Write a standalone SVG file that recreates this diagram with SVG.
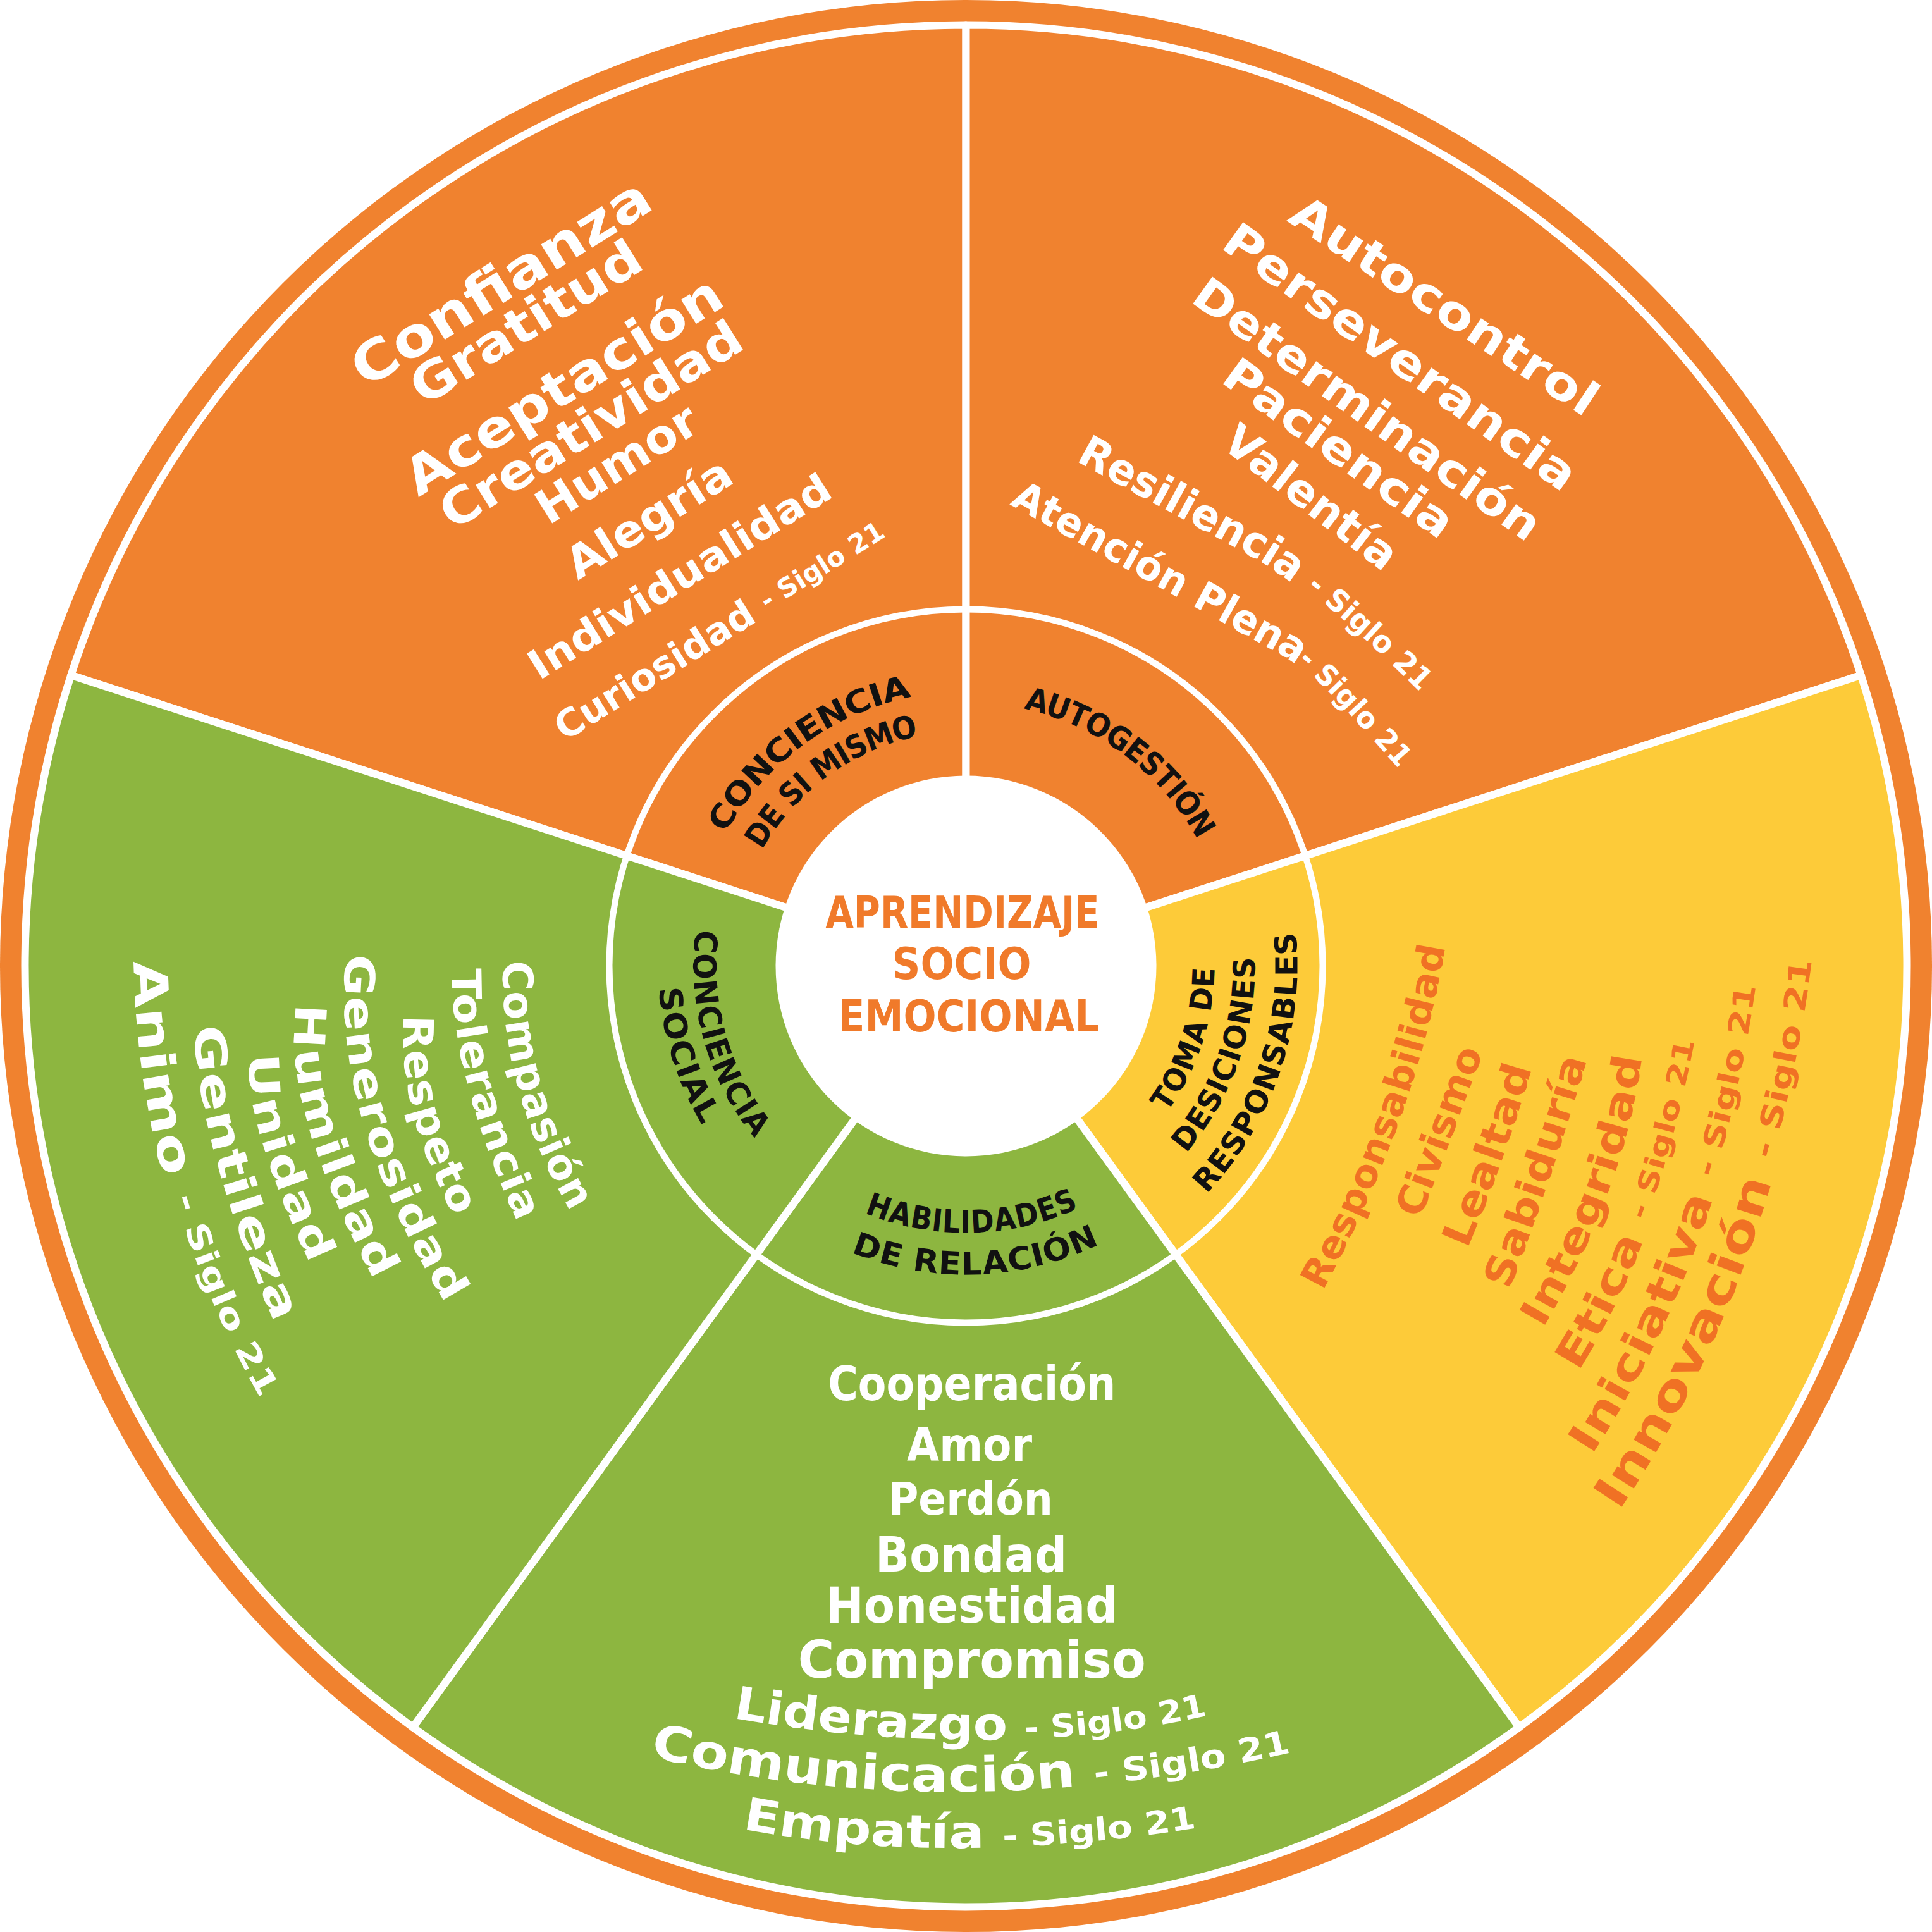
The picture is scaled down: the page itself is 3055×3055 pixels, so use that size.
<svg xmlns="http://www.w3.org/2000/svg" width="3055" height="3055" viewBox="0 0 3055 3055">
<style>
.t{font-family:'DejaVu Sans','Liberation Sans',sans-serif;font-weight:bold}
.w{fill:#ffffff}
.y{fill:#F07124}
.k{fill:#111111}
.c{fill:#F07A2A}
.m{text-anchor:middle}
.cb{dominant-baseline:central}
.wedge{stroke:#ffffff;stroke-width:12;stroke-linejoin:round}
.or{fill:#F0822F}
.gr{fill:#8DB640}
.ye{fill:#FDCB39}
</style>
<defs>
<path id="i1" d="M1077.4,1498.4 A451,451 0 0 1 1634.3,1089.3"/>
<path id="i2" d="M1140.4,1500.4 A388,388 0 0 1 1621.4,1151"/>
<path id="i3" d="M1429.9,1104.6 A434,434 0 0 1 1960.9,1504.8"/>
<path id="i4" d="M1666.5,1876.9 A376,376 0 0 0 1847.4,1329.9"/>
<path id="i5" d="M1682.7,1939.2 A440,440 0 0 0 1906,1303.2"/>
<path id="i6" d="M1710.8,2000.2 A507,507 0 0 0 1961.2,1264.9"/>
<path id="i7" d="M1223.2,1794.8 A405,405 0 0 0 1843.6,1780.7"/>
<path id="i8" d="M1176.9,1842 A471,471 0 0 0 1898.1,1818.1"/>
<path id="i9" d="M1185.3,1294.5 A414,414 0 0 0 1357.5,1905"/>
<path id="i10" d="M1130.7,1275.7 A470,470 0 0 0 1348.4,1962"/>
<path id="y1" d="M2073,2031.7 Q2228.9,1742.8 2269.2,1463.2"/>
<path id="y2" d="M2225,1919.9 Q2258.5,1835.4 2333.7,1631.4"/>
<path id="y3" d="M2299.5,1966.8 Q2364.4,1814.6 2409.3,1654.1"/>
<path id="y4" d="M2366,2032.2 Q2437.1,1846.7 2496.7,1640.9"/>
<path id="y5" d="M2420.5,2089.8 Q2558.2,1855.7 2578,1637.3"/>
<path id="y6" d="M2475.8,2157 Q2609.4,1946.2 2669.5,1613"/>
<path id="y7" d="M2496.6,2288.5 Q2707.7,1966.9 2764.5,1526.9"/>
<path id="y8" d="M2538.3,2375.2 Q2791.4,1997.8 2851.7,1488.5"/>
<path id="l1" d="M818.6,1519.1 Q811.8,1732 941.8,1936.9"/>
<path id="l2" d="M736.95,1532 Q733.6,1702.8 852.7,1954.4"/>
<path id="l3" d="M662.2,1605.8 Q648.2,1758.2 755.4,1943"/>
<path id="l4" d="M570.7,1509.5 Q542.6,1767.9 744.1,2081.1"/>
<path id="l5" d="M494,1588.5 Q464.15,1746.4 630.5,2045.1"/>
<path id="l6" d="M418.7,1666 Q402.35,1761.2 525.8,2019.6"/>
<path id="l7" d="M330.6,1621.4 Q338.6,1820.25 470.2,2113.7"/>
<path id="l8" d="M237.5,1519.1 Q242.35,1892.25 445.8,2236.4"/>
<path id="b7" d="M1159,2716.5 Q1595.5,2792.2 1950,2703"/>
<path id="b8" d="M1027,2777 Q1526.5,2896.5 2080,2762"/>
<path id="b9" d="M1173.7,2892 Q1510.6,2955.5 1925,2885"/>
<path id="r6" d="M1711.9,707.5 L1990,858.4 Q2085.5,910.3 2269.7,1094.4 L2305,1129.8"/>
<path id="r7" d="M1606.7,778 L2040,1018.2 Q2081,1040.9 2238,1221.4 L2271,1259.3"/>
</defs>
<rect width="3055" height="3055" fill="#ffffff"/>
<circle id="border" cx="1527.5" cy="1527.5" r="1527.5" class="or"/>

<g id="conciencia-de-si-mismo">
<path class="wedge or" d="M1527.5,1527.5 L112.3,1067.7 A1488,1488 0 0 1 1527.5,39.5 Z"/>
<text class="t k m cb" font-size="50"><textPath href="#i1" startOffset="50%" textLength="390" lengthAdjust="spacingAndGlyphs">CONCIENCIA</textPath></text>
<text class="t k m cb" font-size="50"><textPath href="#i2" startOffset="50%" textLength="328" lengthAdjust="spacingAndGlyphs">DE SI MISMO</textPath></text>
<text class="t w m cb" font-size="86" textLength="541" lengthAdjust="spacingAndGlyphs" transform="translate(791.8 446.3) rotate(-32)">Confianza</text>
<text class="t w m cb" font-size="80" textLength="415" lengthAdjust="spacingAndGlyphs" transform="translate(831.6 509.6) rotate(-32)">Gratitud</text>
<text class="t w m cb" font-size="82" textLength="576" lengthAdjust="spacingAndGlyphs" transform="translate(890.6 609.6) rotate(-32)">Aceptación</text>
<text class="t w m cb" font-size="78" textLength="548" lengthAdjust="spacingAndGlyphs" transform="translate(934.3 671.7) rotate(-32)">Creatividad</text>
<text class="t w m cb" font-size="74" textLength="287" lengthAdjust="spacingAndGlyphs" transform="translate(975.1 733.2) rotate(-32)">Humor</text>
<text class="t w m cb" font-size="70" textLength="295" lengthAdjust="spacingAndGlyphs" transform="translate(1026.1 819.5) rotate(-32)">Alegría</text>
<text class="t w m cb" font-size="64" textLength="551" lengthAdjust="spacingAndGlyphs" transform="translate(1074.6 911.9) rotate(-32)">Individualidad</text>
<text class="t w m cb" font-size="60" textLength="604" lengthAdjust="spacingAndGlyphs" transform="translate(1138 994.8) rotate(-32)">Curiosidad <tspan font-size="42">- Siglo 21</tspan></text>
</g>

<g id="autogestion">
<path class="wedge or" d="M1527.5,1527.5 L1527.5,39.5 A1488,1488 0 0 1 2942.7,1067.7 Z"/>
<text class="t k m cb" font-size="50"><textPath href="#i3" startOffset="50%" textLength="368" lengthAdjust="spacingAndGlyphs">AUTOGESTIÓN</textPath></text>
<text class="t w m cb" font-size="74" textLength="566" lengthAdjust="spacingAndGlyphs" transform="translate(2284.4 482.8) rotate(33.4)">Autocontrol</text>
<text class="t w m cb" font-size="74" textLength="668" lengthAdjust="spacingAndGlyphs" transform="translate(2214.8 564.1) rotate(35.6)">Perseverancia</text>
<text class="t w m cb" font-size="72" textLength="657" lengthAdjust="spacingAndGlyphs" transform="translate(2162.2 647) rotate(35.6)">Determinación</text>
<text class="t w m cb" font-size="72" textLength="430" lengthAdjust="spacingAndGlyphs" transform="translate(2117.3 708.5) rotate(35.8)">Paciencia</text>
<text class="t w m cb" font-size="70" textLength="327" lengthAdjust="spacingAndGlyphs" transform="translate(2073 786.4) rotate(37.6)">Valentía</text>
<text class="t w cb" font-size="68"><textPath href="#r6" textLength="666" lengthAdjust="spacingAndGlyphs">Resiliencia <tspan font-size="48">- Siglo 21</tspan></textPath></text>
<text class="t w cb" font-size="64"><textPath href="#r7" textLength="758" lengthAdjust="spacingAndGlyphs">Atención Plena<tspan font-size="46">- Siglo 21</tspan></textPath></text>
</g>

<g id="toma-de-decisiones-responsables">
<path class="wedge ye" d="M1527.5,1527.5 L2942.7,1067.7 A1488,1488 0 0 1 2402.1,2731.3 Z"/>
<text class="t k m cb" font-size="48"><textPath href="#i4" startOffset="50%" textLength="235" lengthAdjust="spacingAndGlyphs">TOMA DE</textPath></text>
<text class="t k m cb" font-size="48"><textPath href="#i5" startOffset="50%" textLength="325" lengthAdjust="spacingAndGlyphs">DESICIONES</textPath></text>
<text class="t k m cb" font-size="48"><textPath href="#i6" startOffset="50%" textLength="438" lengthAdjust="spacingAndGlyphs">RESPONSABLES</textPath></text>
<text class="t y cb" font-size="60"><textPath href="#y1" textLength="574" lengthAdjust="spacingAndGlyphs">Responsabilidad</textPath></text>
<text class="t y cb" font-size="62"><textPath href="#y2" textLength="282" lengthAdjust="spacingAndGlyphs">Civismo</textPath></text>
<text class="t y cb" font-size="64"><textPath href="#y3" textLength="302" lengthAdjust="spacingAndGlyphs">Lealtad</textPath></text>
<text class="t y cb" font-size="64"><textPath href="#y4" textLength="383" lengthAdjust="spacingAndGlyphs">Sabiduría</textPath></text>
<text class="t y cb" font-size="64"><textPath href="#y5" textLength="452" lengthAdjust="spacingAndGlyphs">Integridad</textPath></text>
<text class="t y cb" font-size="66"><textPath href="#y6" textLength="551" lengthAdjust="spacingAndGlyphs">Etica <tspan font-size="44">- Siglo 21</tspan></textPath></text>
<text class="t y cb" font-size="68"><textPath href="#y7" textLength="784" lengthAdjust="spacingAndGlyphs">Iniciativa <tspan font-size="46">- Siglo 21</tspan></textPath></text>
<text class="t y cb" font-size="74"><textPath href="#y8" textLength="921" lengthAdjust="spacingAndGlyphs">Innovación <tspan font-size="48">- Siglo 21</tspan></textPath></text>
</g>

<g id="habilidades-de-relacion">
<path class="wedge gr" d="M1527.5,1527.5 L2402.1,2731.3 A1488,1488 0 0 1 652.9,2731.3 Z"/>
<text class="t k m cb" font-size="50"><textPath href="#i7" startOffset="50%" textLength="336" lengthAdjust="spacingAndGlyphs">HABILIDADES</textPath></text>
<text class="t k m cb" font-size="50"><textPath href="#i8" startOffset="50%" textLength="392" lengthAdjust="spacingAndGlyphs">DE RELACIÓN</textPath></text>
<text class="t w m" font-size="74" x="1536.7" y="2213.8" textLength="455" lengthAdjust="spacingAndGlyphs">Cooperación</text>
<text class="t w m" font-size="73" x="1533" y="2310.3" textLength="198" lengthAdjust="spacingAndGlyphs">Amor</text>
<text class="t w m" font-size="72" x="1534.9" y="2395.4" textLength="260" lengthAdjust="spacingAndGlyphs">Perdón</text>
<text class="t w m" font-size="77" x="1535.6" y="2484.9" textLength="303" lengthAdjust="spacingAndGlyphs">Bondad</text>
<text class="t w m" font-size="78" x="1536.7" y="2566.2" textLength="462" lengthAdjust="spacingAndGlyphs">Honestidad</text>
<text class="t w m" font-size="82" x="1536.7" y="2652.9" textLength="550" lengthAdjust="spacingAndGlyphs">Compromiso</text>
<text class="t w" font-size="72"><textPath href="#b7" textLength="755" lengthAdjust="spacingAndGlyphs">Liderazgo <tspan font-size="50">- Siglo 21</tspan></textPath></text>
<text class="t w" font-size="76"><textPath href="#b8" textLength="1024" lengthAdjust="spacingAndGlyphs">Comunicación <tspan font-size="52">- Siglo 21</tspan></textPath></text>
<text class="t w" font-size="72"><textPath href="#b9" textLength="722" lengthAdjust="spacingAndGlyphs">Empatía <tspan font-size="50">- Siglo 21</tspan></textPath></text>
</g>

<g id="conciencia-social">
<path class="wedge gr" d="M1527.5,1527.5 L652.9,2731.3 A1488,1488 0 0 1 112.3,1067.7 Z"/>
<text class="t k m cb" font-size="50"><textPath href="#i9" startOffset="50%" textLength="340" lengthAdjust="spacingAndGlyphs">CONCIENCIA</textPath></text>
<text class="t k m cb" font-size="50"><textPath href="#i10" startOffset="50%" textLength="222" lengthAdjust="spacingAndGlyphs">SOCIAL</textPath></text>
<text class="t w cb" font-size="66"><textPath href="#l1" textLength="405" lengthAdjust="spacingAndGlyphs">Compasión</textPath></text>
<text class="t w cb" font-size="64"><textPath href="#l2" textLength="408" lengthAdjust="spacingAndGlyphs">Tolerancia</textPath></text>
<text class="t w cb" font-size="66"><textPath href="#l3" textLength="322" lengthAdjust="spacingAndGlyphs">Respeto</textPath></text>
<text class="t w cb" font-size="66"><textPath href="#l4" textLength="572" lengthAdjust="spacingAndGlyphs">Generosidad</textPath></text>
<text class="t w cb" font-size="68"><textPath href="#l5" textLength="449" lengthAdjust="spacingAndGlyphs">Humildad</textPath></text>
<text class="t w cb" font-size="66"><textPath href="#l6" textLength="340" lengthAdjust="spacingAndGlyphs">Unidad</textPath></text>
<text class="t w cb" font-size="68"><textPath href="#l7" textLength="481" lengthAdjust="spacingAndGlyphs">Gentileza</textPath></text>
<text class="t w cb" font-size="74"><textPath href="#l8" textLength="718" lengthAdjust="spacingAndGlyphs">Animo <tspan font-size="50">- Siglo 21</tspan></textPath></text>
</g>

<circle id="inner-ring" cx="1527.5" cy="1527.5" r="564" fill="none" stroke="#ffffff" stroke-width="10"/>

<g id="aprendizaje-socio-emocional">
<circle cx="1527.5" cy="1527.5" r="301" fill="#ffffff"/>
<text class="t c m" font-size="70" x="1522" y="1467" textLength="433" lengthAdjust="spacingAndGlyphs">APRENDIZAJE</text>
<text class="t c m" font-size="70" x="1520.6" y="1547.7" textLength="220" lengthAdjust="spacingAndGlyphs">SOCIO</text>
<text class="t c m" font-size="70" x="1532" y="1630.6" textLength="413" lengthAdjust="spacingAndGlyphs">EMOCIONAL</text>
</g>
</svg>
